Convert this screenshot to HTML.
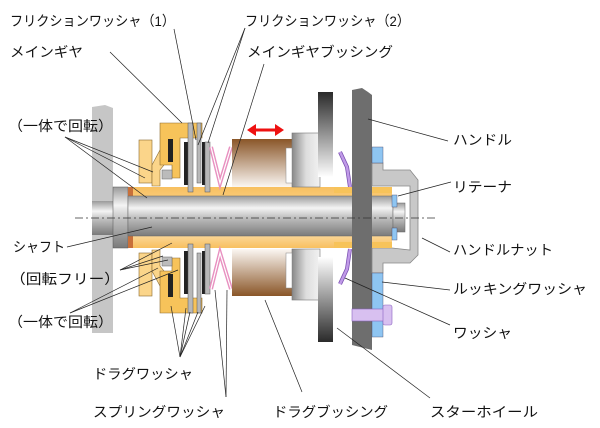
<!DOCTYPE html>
<html><head><meta charset="utf-8"><style>
html,body{margin:0;padding:0;background:#fff;width:600px;height:428px;overflow:hidden}
text{font-family:"Liberation Sans","Noto Sans CJK JP",sans-serif;font-size:14px;fill:#111}
</style></head><body>
<svg width="600" height="428" viewBox="0 0 600 428" xmlns="http://www.w3.org/2000/svg">
<defs>
<linearGradient id="sh" x1="0" y1="0" x2="0" y2="1">
<stop offset="0" stop-color="#9a9a9a"/><stop offset="0.3" stop-color="#f4f4f4"/><stop offset="0.55" stop-color="#bdbdbd"/><stop offset="1" stop-color="#7a7a7a"/></linearGradient>
<linearGradient id="or" x1="0" y1="0" x2="0" y2="1">
<stop offset="0" stop-color="#f8c060"/><stop offset="1" stop-color="#fff6e6"/></linearGradient>
<linearGradient id="or2" x1="0" y1="1" x2="0" y2="0">
<stop offset="0" stop-color="#f8c060"/><stop offset="1" stop-color="#fff6e6"/></linearGradient>
<linearGradient id="br" x1="0" y1="0" x2="0" y2="1">
<stop offset="0" stop-color="#8a5628"/><stop offset="1" stop-color="#fbf7f3"/></linearGradient>
<linearGradient id="br2" x1="0" y1="1" x2="0" y2="0">
<stop offset="0" stop-color="#8a5628"/><stop offset="1" stop-color="#fbf7f3"/></linearGradient>
<linearGradient id="sw" x1="0" y1="0" x2="0" y2="1">
<stop offset="0" stop-color="#2a2a2a"/><stop offset="1" stop-color="#ffffff"/></linearGradient>
<linearGradient id="sw2" x1="0" y1="1" x2="0" y2="0">
<stop offset="0" stop-color="#2a2a2a"/><stop offset="1" stop-color="#ffffff"/></linearGradient>
<linearGradient id="gb" x1="0" y1="0" x2="1" y2="0">
<stop offset="0" stop-color="#888"/><stop offset="0.5" stop-color="#ddd"/><stop offset="1" stop-color="#f2f2f2"/></linearGradient>
</defs>
<!-- left plate -->
<path d="M92,107 L105,105 L113,108 L113,333 L92,333 Z" fill="#c6c6c6"/>
<rect x="92" y="201" width="21" height="34" fill="url(#sh)"/>
<!-- orange left pieces -->
<rect x="139" y="140" width="13" height="43" fill="#fbd58a" stroke="#8a6a30" stroke-width="0.6"/>
<rect x="139" y="253" width="13" height="43" fill="#fbd58a" stroke="#8a6a30" stroke-width="0.6"/>
<path d="M152,165 L160,150 L168,147 L168,160 L160,170 L160,186 L152,186 Z" fill="#fbd58a" stroke="#8a6a30" stroke-width="0.6"/>
<path d="M152,271 L160,286 L168,289 L168,276 L160,266 L160,250 L152,250 Z" fill="#fbd58a" stroke="#8a6a30" stroke-width="0.6"/>
<!-- main gear -->
<path d="M160,123 L202,123 L202,138 L180,138 L180,178 L172,178 L172,165 L160,165 Z" fill="#f7c35a" stroke="#8a6a30" stroke-width="0.6"/>
<path d="M160,313 L202,313 L202,298 L180,298 L180,258 L172,258 L172,271 L160,271 Z" fill="#f7c35a" stroke="#8a6a30" stroke-width="0.6"/>
<rect x="162" y="170" width="10" height="9" fill="#bbb" stroke="#666" stroke-width="0.5"/>
<rect x="162" y="257" width="10" height="9" fill="#bbb" stroke="#666" stroke-width="0.5"/>
<!-- shaft cap and sleeve -->
<rect x="113" y="187" width="15" height="61" fill="url(#sh)" stroke="#555" stroke-width="0.5"/>
<rect x="128" y="187" width="5" height="61" fill="#c8703a"/>
<rect x="133" y="187" width="259" height="61" fill="url(#or)"/>
<rect x="133" y="218" width="259" height="30" fill="url(#or2)"/>
<rect x="128" y="196" width="265" height="40" fill="url(#sh)" stroke="#666" stroke-width="0.5"/>
<rect x="393" y="203" width="12" height="29" fill="url(#sh)" stroke="#666" stroke-width="0.5"/>
<rect x="392" y="195" width="5" height="12" fill="#8ec5f2" stroke="#446" stroke-width="0.4"/>
<rect x="392" y="228" width="5" height="12" fill="#8ec5f2" stroke="#446" stroke-width="0.4"/>
<!-- discs -->
<rect x="168" y="139" width="5" height="23" fill="#222"/>
<rect x="168" y="274" width="5" height="23" fill="#222"/>
<rect x="184" y="142" width="6" height="43" fill="#222"/>
<rect x="184" y="251" width="6" height="43" fill="#222"/>
<rect x="202" y="142" width="6" height="43" fill="#222"/>
<rect x="202" y="251" width="6" height="43" fill="#222"/>
<rect x="188" y="123" width="5" height="69" fill="#b8b8b8" stroke="#555" stroke-width="0.5"/>
<rect x="188" y="244" width="5" height="69" fill="#b8b8b8" stroke="#555" stroke-width="0.5"/>
<rect x="197" y="123" width="4" height="60" fill="#b8b8b8" stroke="#555" stroke-width="0.5"/>
<rect x="197" y="253" width="4" height="60" fill="#b8b8b8" stroke="#555" stroke-width="0.5"/>
<rect x="205" y="142" width="5" height="50" fill="#b8b8b8" stroke="#555" stroke-width="0.5"/>
<rect x="205" y="244" width="5" height="50" fill="#b8b8b8" stroke="#555" stroke-width="0.5"/>
<!-- springs -->
<polyline points="211,147 220,183 231,147" fill="none" stroke="#e890c0" stroke-width="4"/>
<polyline points="211,147 220,183 231,147" fill="none" stroke="#fff" stroke-width="1.2"/>
<polyline points="211,289 220,253 231,289" fill="none" stroke="#e890c0" stroke-width="4"/>
<polyline points="211,289 220,253 231,289" fill="none" stroke="#fff" stroke-width="1.2"/>
<!-- drag bushing -->
<rect x="232" y="139" width="60" height="48" fill="url(#br)"/>
<rect x="232" y="249" width="60" height="47" fill="url(#br2)"/>
<!-- gray block -->
<rect x="292" y="133" width="28" height="54" fill="url(#gb)" stroke="#777" stroke-width="0.6"/>
<rect x="292" y="249" width="28" height="51" fill="url(#gb)" stroke="#777" stroke-width="0.6"/>
<rect x="286" y="148" width="6" height="35" fill="#fff" stroke="#888" stroke-width="0.5"/>
<rect x="286" y="253" width="6" height="35" fill="#fff" stroke="#888" stroke-width="0.5"/>
<!-- star wheel -->
<rect x="318" y="92" width="15" height="85" fill="url(#sw)"/>
<rect x="318" y="257" width="15" height="85" fill="url(#sw2)"/>
<!-- purple washer -->
<polyline points="340,152 347,167 350,187" fill="none" stroke="#7a50b0" stroke-width="4"/>
<polyline points="340,152 347,167 350,187" fill="none" stroke="#c09ae8" stroke-width="2.5"/>
<polyline points="340,284 347,269 350,249" fill="none" stroke="#7a50b0" stroke-width="4"/>
<polyline points="340,284 347,269 350,249" fill="none" stroke="#c09ae8" stroke-width="2.5"/>
<!-- handle plate -->
<path d="M352,90 L362,88 L368,92 L372,95 L372,350 L352,345 Z" fill="#6e6e6e"/>
<!-- handle nut -->
<path d="M372,163 L383,163 L383,170 L410,170 L418,180 L418,255 L410,263 L383,263 L383,273 L372,273 L372,248 L392,248 L410,250 L410,186 L392,186 L372,186 Z" fill="#c8c8c8" stroke="#888" stroke-width="0.8"/>
<rect x="372" y="187" width="20" height="6" fill="#f7c35a"/>
<rect x="372" y="242" width="20" height="6" fill="#f7c35a"/>
<rect x="334" y="187" width="18" height="6" fill="#f7c35a"/>
<rect x="334" y="242" width="18" height="6" fill="#f7c35a"/>
<rect x="372" y="147" width="11" height="16" fill="#8ec5f2" stroke="#446" stroke-width="0.4"/>
<rect x="372" y="273" width="11" height="64" fill="#8ec5f2" stroke="#446" stroke-width="0.4"/>
<rect x="352" y="309" width="32" height="12" fill="#d8c0f0" stroke="#8a60c0" stroke-width="0.6"/>
<rect x="383" y="305" width="9" height="20" rx="2" fill="#d8c0f0" stroke="#8a60c0" stroke-width="0.6"/>
<!-- center line -->
<line x1="75" y1="218" x2="435" y2="218" stroke="#333" stroke-width="0.7" stroke-dasharray="8,3,2,3"/>
<!-- red arrow -->
<line x1="254" y1="130" x2="276" y2="130" stroke="#ee1111" stroke-width="3"/>
<polygon points="247,130 256,124 256,136" fill="#ee1111"/>
<polygon points="284,130 275,124 275,136" fill="#ee1111"/>
<!-- leaders -->
<g stroke="#222" stroke-width="0.7" fill="none">
<line x1="174" y1="29" x2="196" y2="140"/>
<line x1="245" y1="28" x2="198" y2="145"/>
<line x1="245" y1="28" x2="208" y2="143"/>
<line x1="110" y1="52" x2="182" y2="123"/>
<line x1="264" y1="64" x2="223" y2="195"/>
<line x1="65" y1="137" x2="153" y2="172"/>
<line x1="65" y1="137" x2="145" y2="178"/>
<line x1="65" y1="137" x2="147" y2="198"/>
<line x1="67" y1="247" x2="152" y2="227"/>
<line x1="120" y1="270" x2="172" y2="243"/>
<line x1="120" y1="270" x2="168" y2="260"/>
<line x1="120" y1="270" x2="163" y2="256"/>
<line x1="70" y1="313" x2="178" y2="270"/>
<line x1="70" y1="313" x2="158" y2="268"/>
<line x1="180" y1="357" x2="171" y2="306"/>
<line x1="180" y1="357" x2="186" y2="308"/>
<line x1="180" y1="357" x2="190" y2="312"/>
<line x1="180" y1="357" x2="198" y2="312"/>
<line x1="180" y1="357" x2="205" y2="306"/>
<line x1="226" y1="397" x2="215" y2="290"/>
<line x1="226" y1="397" x2="227" y2="290"/>
<line x1="302" y1="392" x2="265" y2="300"/>
<line x1="430" y1="398" x2="337" y2="328"/>
<line x1="450" y1="325" x2="345" y2="278"/>
<line x1="450" y1="290" x2="382" y2="282"/>
<line x1="450" y1="252" x2="422" y2="238"/>
<line x1="451" y1="182" x2="398" y2="196"/>
<line x1="448" y1="141" x2="368" y2="119"/>
</g>
<!-- labels -->
<text x="10" y="26" textLength="165" lengthAdjust="spacingAndGlyphs">フリクションワッシャ（1）</text>
<text x="245" y="26" textLength="165" lengthAdjust="spacingAndGlyphs">フリクションワッシャ（2）</text>
<text x="10" y="57" textLength="73" lengthAdjust="spacingAndGlyphs">メインギヤ</text>
<text x="247" y="57" textLength="146" lengthAdjust="spacingAndGlyphs">メインギヤブッシング</text>
<text x="8" y="131" textLength="105" lengthAdjust="spacingAndGlyphs">（一体で回転）</text>
<text x="13" y="252" textLength="52" lengthAdjust="spacingAndGlyphs">シャフト</text>
<text x="10" y="284" textLength="110" lengthAdjust="spacingAndGlyphs">（回転フリー）</text>
<text x="8" y="327" textLength="105" lengthAdjust="spacingAndGlyphs">（一体で回転）</text>
<text x="93" y="379" textLength="100" lengthAdjust="spacingAndGlyphs">ドラグワッシャ</text>
<text x="93" y="417" textLength="132" lengthAdjust="spacingAndGlyphs">スプリングワッシャ</text>
<text x="273" y="417" textLength="115" lengthAdjust="spacingAndGlyphs">ドラグブッシング</text>
<text x="430" y="417" textLength="108" lengthAdjust="spacingAndGlyphs">スターホイール</text>
<text x="453" y="338" textLength="59" lengthAdjust="spacingAndGlyphs">ワッシャ</text>
<text x="453" y="294" textLength="134" lengthAdjust="spacingAndGlyphs">ルッキングワッシャ</text>
<text x="453" y="255" textLength="100" lengthAdjust="spacingAndGlyphs">ハンドルナット</text>
<text x="453" y="192" textLength="59" lengthAdjust="spacingAndGlyphs">リテーナ</text>
<text x="453" y="145" textLength="59" lengthAdjust="spacingAndGlyphs">ハンドル</text>
</svg>
</body></html>
